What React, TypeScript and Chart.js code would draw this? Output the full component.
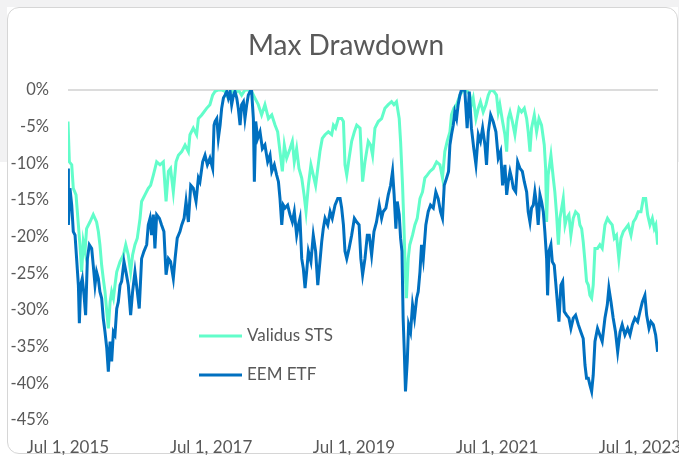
import { useEffect, useRef } from "react";
import { Chart, registerables } from "chart.js";

Chart.register(...registerables);

// ---- Data (x = days since Jul 1, 2015; y = drawdown in %) ----
const chartTitle = "Max Drawdown";
const seriesNames = ["Validus STS", "EEM ETF"];

const validusDays = [
  0, 7, 19, 27, 41, 53, 61, 70, 78, 87, 95, 112, 129, 146, 155, 163, 172, 180, 189, 198, 206, 215, 223, 232, 240, 249,
  266, 283, 295, 308, 320, 330, 342, 354, 368, 376, 393, 410, 422, 436, 453, 470, 487, 501, 513, 524, 538, 552, 564, 581,
  598, 615, 623, 640, 657, 666, 683, 708, 725, 739, 751, 768, 785, 802, 819, 836, 853, 870, 887, 904, 921, 938, 955, 972,
  989, 1006, 1024, 1041, 1058, 1071, 1083, 1095, 1105, 1117, 1134, 1146, 1156, 1168, 1180, 1194, 1206, 1216, 1228, 1241,
  1253, 1265, 1276, 1287, 1299, 1313, 1330, 1347, 1356, 1367, 1381, 1398, 1407, 1415, 1424, 1436, 1449, 1463, 1475, 1492,
  1505, 1517, 1534, 1546, 1556, 1568, 1585, 1602, 1619, 1636, 1653, 1665, 1678, 1692, 1699, 1709, 1716, 1723, 1729, 1738,
  1746, 1760, 1772, 1784, 1798, 1811, 1823, 1835, 1849, 1866, 1883, 1900, 1913, 1925, 1937, 1951, 1959, 1971, 1985, 2002,
  2019, 2036, 2053, 2061, 2070, 2084, 2096, 2107, 2121, 2135, 2147, 2159, 2176, 2189, 2198, 2206, 2220, 2232, 2241, 2249,
  2258, 2270, 2283, 2292, 2304, 2317, 2331, 2343, 2351, 2360, 2368, 2382, 2394, 2406, 2419, 2433, 2440, 2445, 2453, 2467,
  2479, 2487, 2496, 2505, 2513, 2522, 2530, 2539, 2547, 2559, 2569, 2581, 2593, 2607, 2615, 2624, 2632, 2641, 2649, 2658,
  2666, 2675, 2683, 2692, 2705, 2717, 2729, 2743, 2756, 2768, 2780, 2791, 2802, 2814, 2825, 2837, 2848, 2862, 2876, 2888,
  2900, 2913, 2927, 2939, 2951, 2961, 2973, 2985, 2995, 3003, 3012,
];
const validusDrawdown = [
  -4.3, -9.8, -10.2, -13.4, -14.3, -18.4, -21.1, -24.8, -20.7, -22.0, -18.9, -18.0, -17.0, -18.0, -19.3, -21.1, -23.9,
  -25.7, -27.5, -30.2, -32.5, -28.9, -27.5, -28.4, -26.6, -24.8, -23.4, -22.5, -21.1, -22.5, -24.8, -22.5, -21.1, -20.2,
  -17.5, -15.2, -14.3, -13.4, -13.0, -11.6, -9.8, -10.2, -9.8, -15.2, -11.1, -10.7, -13.9, -9.8, -8.9, -8.4, -7.5, -8.4,
  -6.1, -5.2, -6.1, -3.9, -3.4, -2.5, -2.0, -0.7, -0.2, 0, 0, -0.2, -1.1, 0, -0.5, 0, -0.7, 0, 0, -0.2, -1.1, -2.0, -3.4,
  -2.0, -3.9, -3.4, -4.8, -5.7, -8.4, -11.1, -7.5, -9.3, -8.0, -7.0, -9.8, -8.0, -10.7, -12.0, -14.3, -16.6, -13.0, -10.2,
  -11.6, -13.0, -10.7, -8.4, -6.6, -6.1, -5.7, -6.1, -4.8, -5.2, -3.9, -3.9, -4.3, -10.2, -11.6, -9.3, -7.0, -5.7, -4.8,
  -5.2, -12.5, -9.8, -7.0, -7.5, -8.9, -5.2, -4.3, -3.9, -2.5, -2.0, -1.6, -2.0, -1.6, -3.9, -7.0, -13.0, -18.4, -24.8,
  -28.4, -23.0, -21.1, -19.8, -18.4, -17.5, -14.8, -13.9, -12.0, -11.6, -11.1, -10.7, -9.8, -10.2, -12.0, -8.4, -7.0,
  -5.7, -3.4, -2.5, -2.0, -0.7, 0, 0, -0.7, -2.0, -1.1, -3.9, -2.5, -1.6, -3.0, -2.0, -0.7, 0, -0.2, -0.7, -3.0, -2.0,
  -4.3, -6.1, -8.4, -3.9, -3.0, -4.3, -6.1, -4.3, -2.5, -3.0, -2.5, -3.9, -5.7, -8.4, -5.2, -3.4, -5.7, -3.9, -4.8, -7.5,
  -10.7, -18.0, -11.6, -8.9, -12.0, -13.9, -17.0, -21.1, -17.5, -16.1, -14.8, -18.4, -17.5, -17.0, -19.8, -17.5, -16.6,
  -17.0, -18.4, -18.9, -20.7, -23.4, -26.1, -26.6, -28.0, -28.4, -26.6, -21.6, -21.6, -21.1, -21.6, -18.4, -17.5, -18.0,
  -18.4, -20.2, -19.8, -23.0, -20.2, -19.3, -18.9, -18.4, -19.8, -18.0, -17.5, -16.6, -16.6, -14.8, -14.8, -17.0, -18.4,
  -17.5, -18.9, -18.4, -21.1,
];

const eemDays = [
  0, 2, 10, 19, 27, 36, 44, 53, 58, 65, 73, 82, 90, 99, 109, 121, 129, 138, 146, 155, 163, 172, 180, 189, 198, 206, 215,
  223, 232, 240, 249, 257, 266, 274, 286, 296, 308, 320, 330, 342, 354, 364, 376, 388, 402, 410, 419, 427, 436, 444, 453,
  467, 478, 490, 501, 513, 524, 538, 547, 558, 572, 581, 593, 603, 615, 627, 640, 654, 666, 674, 688, 700, 712, 725, 739,
  746, 751, 760, 768, 777, 785, 794, 802, 811, 819, 828, 836, 845, 853, 862, 870, 879, 887, 896, 904, 913, 921, 930, 938,
  947, 952, 959, 969, 981, 993, 1006, 1020, 1032, 1041, 1054, 1066, 1075, 1083, 1092, 1100, 1109, 1122, 1134, 1146, 1156,
  1168, 1177, 1185, 1194, 1202, 1211, 1219, 1228, 1241, 1253, 1265, 1276, 1287, 1296, 1304, 1313, 1327, 1339, 1350, 1364,
  1378, 1390, 1398, 1407, 1415, 1424, 1436, 1449, 1463, 1475, 1487, 1496, 1505, 1517, 1529, 1539, 1551, 1563, 1576, 1590,
  1602, 1610, 1624, 1636, 1648, 1658, 1666, 1675, 1682, 1692, 1699, 1706, 1712, 1718, 1724, 1733, 1740, 1750, 1760, 1770,
  1781, 1789, 1798, 1806, 1815, 1828, 1840, 1852, 1866, 1879, 1891, 1903, 1913, 1922, 1934, 1944, 1951, 1959, 1968, 1976,
  1985, 1993, 2002, 2010, 2027, 2039, 2050, 2061, 2073, 2084, 2096, 2107, 2118, 2130, 2138, 2147, 2159, 2172, 2186, 2198,
  2210, 2220, 2232, 2241, 2249, 2258, 2266, 2275, 2287, 2297, 2309, 2321, 2331, 2343, 2351, 2360, 2368, 2377, 2385, 2394,
  2402, 2411, 2419, 2428, 2436, 2445, 2450, 2457, 2467, 2474, 2484, 2491, 2501, 2508, 2518, 2527, 2535, 2547, 2559, 2569,
  2581, 2593, 2607, 2620, 2632, 2641, 2649, 2658, 2666, 2675, 2683, 2692, 2705, 2717, 2729, 2743, 2755, 2763, 2774, 2785,
  2797, 2808, 2820, 2831, 2845, 2859, 2871, 2883, 2896, 2910, 2922, 2934, 2947, 2956, 2968, 2978, 2990, 3002, 3012,
];
const eemDrawdown = [
  -10.7, -18.4, -13.4, -15.7, -19.3, -19.8, -23.0, -26.6, -31.8, -26.6, -25.7, -28.0, -30.7, -23.0, -21.1, -21.6, -23.9,
  -26.6, -24.8, -25.7, -27.5, -28.4, -31.1, -33.0, -35.2, -38.4, -34.3, -37.0, -33.0, -33.4, -29.8, -28.9, -26.6, -26.1,
  -23.4, -24.8, -26.6, -30.7, -27.5, -24.8, -27.5, -29.8, -23.0, -22.0, -21.1, -18.4, -17.5, -19.8, -17.0, -21.6, -17.0,
  -17.5, -18.4, -19.3, -25.2, -23.0, -23.4, -25.7, -23.0, -20.2, -19.3, -18.4, -17.5, -15.2, -18.0, -13.0, -13.4, -15.2,
  -12.0, -12.5, -9.8, -8.9, -10.2, -9.3, -10.7, -4.8, -4.3, -3.9, -6.6, -4.8, -2.5, -1.1, -0.7, -0.2, -1.1, -0.2, -2.0,
  -0.7, -0.2, -1.1, -2.5, -4.8, -2.0, -1.6, -3.9, -2.0, -0.7, -0.2, -0.2, -3.9, -12.5, -4.3, -6.6, -5.7, -8.0, -7.5, -9.8,
  -8.9, -11.1, -10.2, -11.6, -12.5, -14.8, -18.4, -15.7, -16.1, -15.7, -17.0, -18.0, -16.6, -19.8, -18.4, -17.5, -23.0,
  -24.3, -27.0, -24.8, -22.0, -23.4, -19.8, -22.0, -26.6, -23.4, -20.7, -18.9, -17.5, -18.4, -16.6, -17.5, -15.7, -14.8,
  -14.8, -16.1, -18.4, -22.0, -23.0, -21.6, -19.8, -17.5, -18.0, -18.4, -23.0, -25.2, -23.0, -19.8, -19.8, -22.5, -19.3,
  -18.0, -15.7, -17.5, -16.6, -16.1, -14.3, -13.0, -11.1, -14.3, -18.9, -15.2, -17.0, -20.2, -22.0, -31.1, -35.7, -41.1,
  -37.0, -32.0, -33.0, -29.3, -31.1, -28.4, -27.5, -24.8, -21.1, -23.0, -18.4, -16.6, -15.7, -16.1, -13.9, -14.8, -16.6,
  -17.5, -13.0, -12.0, -11.1, -7.5, -6.1, -4.8, -3.0, -3.9, -2.0, -0.7, 0, 0, -5.2, -0.2, -5.2, -8.0, -10.2, -6.1, -7.0,
  -5.2, -7.5, -10.2, -5.7, -3.4, -4.3, -5.7, -9.3, -8.4, -13.0, -10.2, -14.3, -12.5, -11.1, -12.0, -13.4, -13.9, -9.8,
  -10.7, -11.1, -12.5, -13.9, -16.6, -18.0, -16.1, -15.7, -13.9, -15.7, -18.4, -14.3, -15.2, -16.6, -19.3, -23.0, -28.0,
  -22.0, -21.1, -23.4, -23.9, -26.1, -29.3, -31.6, -26.6, -26.1, -30.2, -30.7, -31.1, -32.5, -31.1, -30.7, -32.0, -33.0,
  -33.9, -37.5, -39.3, -39.3, -40.2, -41.1, -38.9, -34.3, -32.5, -33.4, -34.3, -31.1, -29.3, -27.0, -28.9, -31.1, -33.0,
  -35.7, -33.0, -32.0, -33.4, -32.5, -33.4, -32.0, -31.1, -31.6, -30.2, -28.9, -28.0, -30.7, -32.5, -31.6, -32.0, -33.4,
  -35.7,
];

// x tick positions (days since Jul 1, 2015) and labels
const xTickDays = [0, 731, 1461, 2192, 2922];
const xTickLabels = ["Jul 1, 2015", "Jul 1, 2017", "Jul 1, 2019", "Jul 1, 2021", "Jul 1, 2023"];
const xMaxDay = 3014;
const yMin = -45;
const yMax = 0;
const yStep = 5;

const COLORS = ["#62FDCA", "#0070C0"];
const TEXT = "#595959";
const FONT = "Lato";

export default function App() {
  const ref = useRef<HTMLCanvasElement | null>(null);

  useEffect(() => {
    if (!ref.current) return;

    const titlePlugin = {
      id: "customTitle",
      afterDraw(chart: any) {
        const c = chart.ctx;
        c.save();
        c.font = `28px ${FONT}`;
        c.fillStyle = TEXT;
        c.textAlign = "center";
        c.textBaseline = "alphabetic";
        c.fillText(chartTitle, chart.chartArea.left + 278, chart.chartArea.top - 35);
        c.restore();
      },
    };

    const legendPlugin = {
      id: "customLegend",
      afterDraw(chart: any) {
        const c = chart.ctx;
        const a = chart.chartArea;
        const x0 = a.left + 131;
        const rows = [a.top + 246, a.top + 285];
        c.save();
        seriesNames.forEach((name, i) => {
          const y = rows[i];
          c.strokeStyle = COLORS[i];
          c.lineWidth = 3;
          c.beginPath();
          c.moveTo(x0, y);
          c.lineTo(x0 + 43, y);
          c.stroke();
          c.font = `17px ${FONT}`;
          c.fillStyle = TEXT;
          c.textAlign = "left";
          c.textBaseline = "middle";
          c.fillText(name, x0 + 48, y);
        });
        c.restore();
      },
    };

    const chart = new Chart(ref.current, {
      type: "line",
      data: {
        datasets: [
          {
            label: seriesNames[0],
            data: validusDays.map((d, i) => ({ x: d, y: validusDrawdown[i] })),
            borderColor: COLORS[0],
            backgroundColor: COLORS[0],
            borderWidth: 3,
            pointRadius: 0,
            tension: 0,
            order: 1,
          },
          {
            label: seriesNames[1],
            data: eemDays.map((d, i) => ({ x: d, y: eemDrawdown[i] })),
            borderColor: COLORS[1],
            backgroundColor: COLORS[1],
            borderWidth: 3,
            pointRadius: 0,
            tension: 0,
            order: 0,
          },
        ],
      },
      options: {
        responsive: false,
        animation: false,
        devicePixelRatio: 1,
        layout: { padding: { top: 90, right: 21, bottom: 0, left: 0 } },
        plugins: {
          legend: { display: false },
          title: { display: false },
          tooltip: { enabled: false },
        },
        scales: {
          x: {
            type: "linear",
            min: 0,
            max: xMaxDay,
            afterBuildTicks: (s: any) => {
              s.ticks = xTickDays.map((v) => ({ value: v }));
            },
            afterFit: (s: any) => {
              s.height = 35;
              s.paddingLeft = 0;
              s.paddingRight = 0;
            },
            ticks: {
              autoSkip: false,
              maxRotation: 0,
              minRotation: 0,
              padding: 17,
              color: TEXT,
              font: { family: FONT, size: 17 },
              callback: (_v: any, i: number) => xTickLabels[i],
            },
            grid: { display: false, drawTicks: false },
            border: { display: false },
          },
          y: {
            min: yMin,
            max: yMax,
            afterFit: (s: any) => {
              s.width = 68;
            },
            ticks: {
              stepSize: yStep,
              padding: 19,
              color: TEXT,
              font: { family: FONT, size: 16.5 },
              callback: (v: any) => `${v}%`,
            },
            grid: {
              drawTicks: false,
              lineWidth: 2,
              color: (ctx: any) => (ctx.tick && ctx.tick.value === 0 ? "#dcdcdc" : "rgba(0,0,0,0)"),
            },
            border: { display: false },
          },
        },
      },
      plugins: [titlePlugin, legendPlugin],
    });

    return () => chart.destroy();
  }, []);

  return (
    <div style={{ position: "fixed", left: 0, top: 0, width: 679, height: 455, background: "#ffffff", overflow: "hidden" }}>
      <div style={{ position: "absolute", left: 0, top: 0, width: 679, height: 7, background: "#f2f2f3" }} />
      <div style={{ position: "absolute", left: 0, top: 0, width: 7, height: 162, background: "#f2f2f3" }} />
      <div style={{ position: "absolute", left: 678, top: 0, width: 7, height: 162, background: "#f2f2f3" }} />
      <div
        style={{
          position: "absolute",
          left: 7,
          top: 7,
          width: 671,
          height: 447,
          boxSizing: "border-box",
          border: "1px solid #d6d6d6",
          borderRadius: 12,
          background: "#ffffff",
        }}
      />
      <canvas ref={ref} width={679} height={455} style={{ position: "absolute", left: 0, top: 0 }} />
    </div>
  );
}
